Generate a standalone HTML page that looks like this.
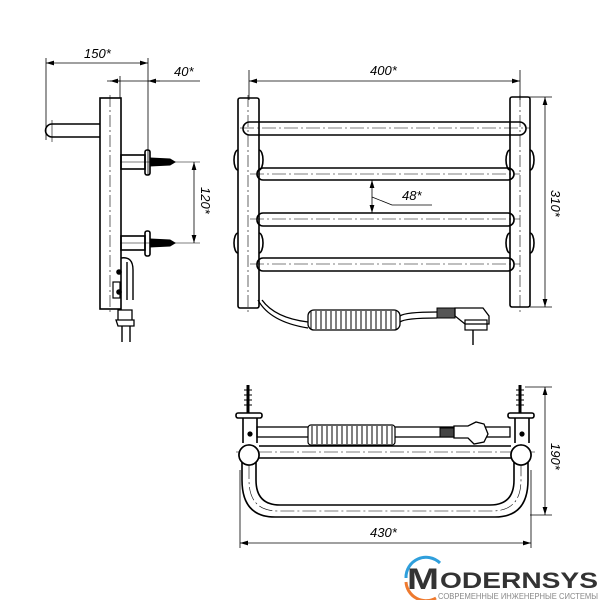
<!DOCTYPE html>
<html><head><meta charset="utf-8"><style>html,body{margin:0;padding:0;background:#fff}svg{display:block}</style></head><body>
<svg width="600" height="600" viewBox="0 0 600 600" xmlns="http://www.w3.org/2000/svg" font-family="Liberation Sans, sans-serif">
<defs>
<marker id="a" viewBox="0 0 10 6" refX="10" refY="3" markerWidth="10" markerHeight="6" orient="auto-start-reverse"><path d="M0,0L10,3L0,6z" fill="#000"/></marker>
</defs>
<g stroke="#000" stroke-width="1.6" fill="none">
<!-- LEFT VIEW -->
<line x1="46" y1="58" x2="46" y2="140" stroke-width="0.8"/>
<line x1="148" y1="58" x2="148" y2="175" stroke-width="0.8"/>
<line x1="46" y1="63" x2="148" y2="63" stroke-width="0.8" marker-start="url(#a)" marker-end="url(#a)"/>
<line x1="107" y1="81" x2="200" y2="81" stroke-width="0.8"/>
<line x1="110" y1="81" x2="120" y2="81" stroke-width="0.8" marker-start="url(#a)"/>
<line x1="120" y1="76" x2="120" y2="98" stroke-width="0.8"/>
<line x1="148" y1="81" x2="160" y2="81" stroke-width="0.8" marker-start="url(#a)"/>
<rect x="100" y="98" width="21" height="211"/>
<line x1="110" y1="95" x2="110" y2="312" stroke-width="0.6" stroke-dasharray="12,3,2,3"/>
<path d="M100,124 H52 a6.5,6.5 0 0 0 0,13 H100"/>
<line x1="52" y1="120" x2="52" y2="142" stroke-width="0.6"/>
<g id="br">
<rect x="121" y="155" width="24" height="14"/>
<rect x="145" y="150" width="5" height="25" rx="2"/>
<path d="M150,158 L170,159 L175,162 L170,165 L150,166z" fill="#000" stroke-width="1"/>
<line x1="120" y1="162" x2="200" y2="162" stroke-width="0.6"/>
</g>
<use href="#br" transform="translate(0,81)"/>
<line x1="194" y1="162" x2="194" y2="243" stroke-width="0.8" marker-start="url(#a)" marker-end="url(#a)"/>
<path d="M121,258 q12,-2 12,12 V300 M127,262 V300" stroke-width="1.4"/>
<circle cx="119" cy="272" r="2" fill="#000"/><circle cx="119" cy="292" r="2" fill="#000"/>
<rect x="113" y="282" width="7" height="16" stroke-width="1.2"/>
<path d="M118,310 h14 v10 h-14z M116,320 h18 v6 h-16z" stroke-width="1.3"/>
<path d="M122,326 v16 M130,326 v16" stroke-width="1.4"/>
<!-- MIDDLE VIEW -->
<line x1="249" y1="70" x2="249" y2="100" stroke-width="0.8"/>
<line x1="520" y1="70" x2="520" y2="100" stroke-width="0.8"/>
<line x1="249" y1="81" x2="520" y2="81" stroke-width="0.8" marker-start="url(#a)" marker-end="url(#a)"/>
<rect x="238" y="98" width="21" height="210" rx="2"/>
<rect x="510" y="97" width="20" height="210" rx="2"/>
<line x1="248" y1="95" x2="248" y2="315" stroke-width="0.6" stroke-dasharray="12,3,2,3"/>
<line x1="520" y1="95" x2="520" y2="315" stroke-width="0.6" stroke-dasharray="12,3,2,3"/>
<path d="M238,150 a4,10 0 0 0 0,20 M259,150 a4,10 0 0 1 0,20 M238,233 a4,10 0 0 0 0,20 M259,233 a4,10 0 0 1 0,20"/>
<path d="M510,150 a4,10 0 0 0 0,20 M530,150 a4,10 0 0 1 0,20 M510,233 a4,10 0 0 0 0,20 M530,233 a4,10 0 0 1 0,20"/>
<rect x="243" y="122" width="283" height="13" rx="6.5"/>
<rect x="257" y="168" width="257" height="12" rx="6"/>
<rect x="257" y="213" width="257" height="13" rx="6"/>
<rect x="257" y="258" width="257" height="13" rx="6"/>
<g stroke-width="0.6" stroke-dasharray="14,3,2,3"><line x1="240" y1="128" x2="530" y2="128"/><line x1="250" y1="174" x2="520" y2="174"/><line x1="250" y1="219" x2="520" y2="219"/><line x1="250" y1="264" x2="520" y2="264"/></g>
<line x1="372" y1="180" x2="372" y2="213" stroke-width="0.8" marker-start="url(#a)" marker-end="url(#a)"/>
<path d="M372,197 L392,205 H432" stroke-width="0.8"/>
<line x1="525" y1="97" x2="552" y2="97" stroke-width="0.8"/>
<line x1="530" y1="307" x2="552" y2="307" stroke-width="0.8"/>
<line x1="545" y1="97" x2="545" y2="307" stroke-width="0.8" marker-start="url(#a)" marker-end="url(#a)"/>
<path d="M258,300 Q270,322 308,328 M262,300 Q275,318 308,322" stroke-width="1.3"/>
<rect x="308" y="310" width="92" height="20" rx="6" stroke-width="1.3"/>
<path d="M311,311 v18 M316,311 v18 M321,311 v18 M326,311 v18 M331,311 v18 M336,311 v18 M341,311 v18 M346,311 v18 M351,311 v18 M356,311 v18 M361,311 v18 M366,311 v18 M371,311 v18 M376,311 v18 M381,311 v18 M386,311 v18 M391,311 v18 M396,311 v18" stroke-width="1"/>
<path d="M400,316 Q405,312 437,312 M400,322 Q405,318 437,318" stroke-width="1.2"/>
<rect x="437" y="308" width="18" height="10" fill="#555" stroke-width="1"/>
<path d="M455,308 h28 l6,8 v8 h-24 l-10,-8z" stroke-width="1.3"/>
<rect x="465" y="320" width="22" height="10" stroke-width="1.2"/>
<line x1="473" y1="330" x2="473" y2="345" stroke-width="1.4"/>
<!-- BOTTOM VIEW -->
<g id="sc">
<path d="M248,385 V413" stroke-width="3"/>
<path d="M244,390 h8 M244,395 h8 M244,400 h8 M244,405 h8" stroke-width="1"/>
<rect x="236" y="413" width="26" height="5" rx="2"/>
<path d="M243,418 V443 M257,418 V443"/>
<circle cx="250" cy="434" r="1.8" fill="#000"/>
<circle cx="249" cy="455" r="10" fill="#fff"/>
</g>
<use href="#sc" transform="translate(272,0)"/>
<rect x="257" y="427" width="253" height="10" stroke-width="1.3"/>
<rect x="308" y="425" width="87" height="20" rx="3" fill="#fff" stroke-width="1.2"/>
<path d="M312,426 v18 M317,426 v18 M322,426 v18 M327,426 v18 M332,426 v18 M337,426 v18 M342,426 v18 M347,426 v18 M352,426 v18 M357,426 v18 M362,426 v18 M367,426 v18 M372,426 v18 M377,426 v18 M382,426 v18 M387,426 v18 M392,426 v18" stroke-width="1"/>
<rect x="440" y="428" width="14" height="9" fill="#444" stroke-width="1"/>
<path d="M454,426 h14 l8,-4 l8,2 l4,10 l-4,8 l-10,2 l-6,-6 h-14z" fill="#fff" stroke-width="1.3"/>
<path d="M259,446 H511 M259,458 H511"/>
<line x1="236" y1="452" x2="535" y2="452" stroke-width="0.6" stroke-dasharray="14,3,2,3"/>
<path d="M242,462 V480 Q242,517 275,517 H495 Q528,517 528,480 V462"/>
<path d="M256,462 V480 Q256,505 280,505 H490 Q514,505 514,480 V462"/>
<path d="M249,465 V480 Q249,511 278,511 H492 Q521,511 521,480 V465" stroke-width="0.6" stroke-dasharray="14,3,2,3"/>
<circle cx="249" cy="455" r="10" fill="#fff"/>
<circle cx="521" cy="455" r="10" fill="#fff"/>
<line x1="525" y1="387" x2="552" y2="387" stroke-width="0.8"/>
<line x1="530" y1="515" x2="552" y2="515" stroke-width="0.8"/>
<line x1="545" y1="387" x2="545" y2="515" stroke-width="0.8" marker-start="url(#a)" marker-end="url(#a)"/>
<line x1="240" y1="470" x2="240" y2="548" stroke-width="0.8"/>
<line x1="531" y1="470" x2="531" y2="548" stroke-width="0.8"/>
<line x1="240" y1="543" x2="531" y2="543" stroke-width="0.8" marker-start="url(#a)" marker-end="url(#a)"/>
</g>
<g font-style="italic" font-size="13" fill="#000">
<text x="84" y="58">150*</text>
<text x="174" y="76">40*</text>
<text x="370" y="75">400*</text>
<text x="402" y="200">48*</text>
<text x="370" y="537">430*</text>
<text transform="translate(201,187) rotate(90)">120*</text>
<text transform="translate(551,190) rotate(90)">310*</text>
<text transform="translate(551,443) rotate(90)">190*</text>
</g>
<!-- logo -->
<path d="M406,578 A20,20 0 0 1 440,563" stroke="#2f9fdc" stroke-width="3" fill="none"/>
<path d="M406,582 A20,20 0 0 0 436,598" stroke="#ee7a2f" stroke-width="3" fill="none"/>
<text x="407" y="589" font-size="30" font-weight="bold" fill="#333" textLength="32" lengthAdjust="spacingAndGlyphs">M</text>
<text x="440" y="588" font-size="22" font-weight="bold" fill="#333" textLength="158" lengthAdjust="spacingAndGlyphs">ODERNSYS</text>
<text x="438" y="599" font-size="8" fill="#888" textLength="160" lengthAdjust="spacingAndGlyphs">СОВРЕМЕННЫЕ ИНЖЕНЕРНЫЕ СИСТЕМЫ</text>
</svg>
</body></html>
